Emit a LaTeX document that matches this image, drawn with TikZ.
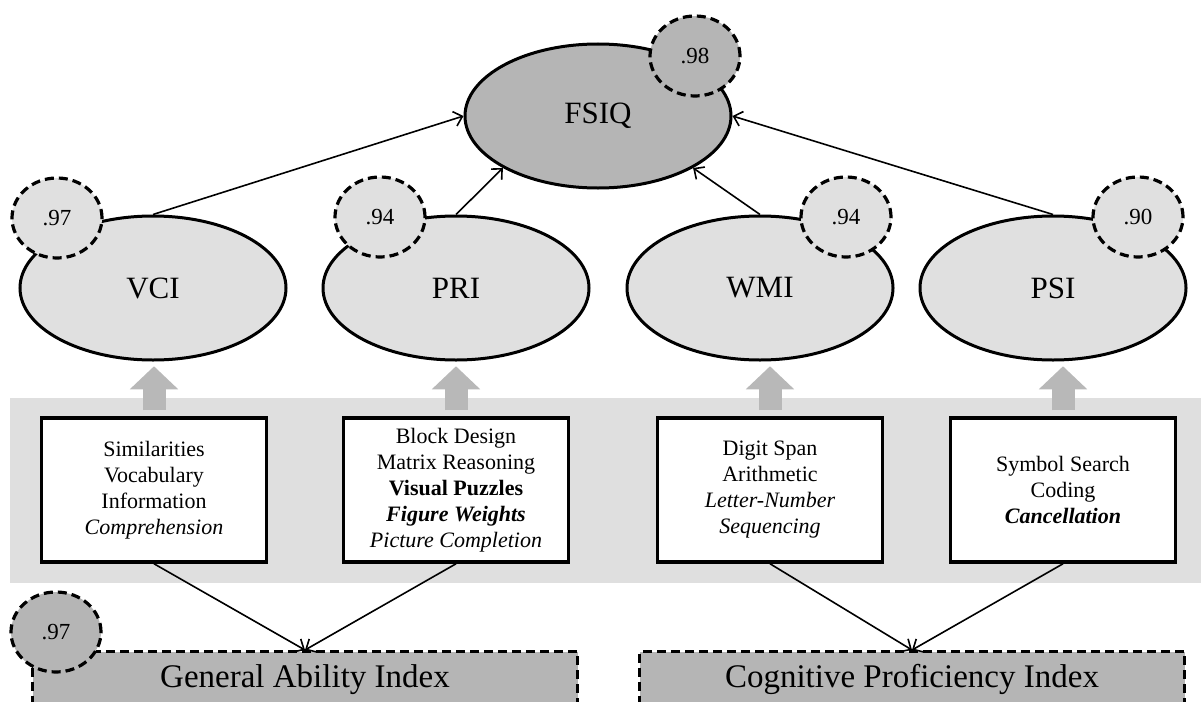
\documentclass[tikz,border=0pt]{standalone}
\usepackage{fontspec}
\setmainfont{Liberation Serif}
\usetikzlibrary{
  shapes.geometric, % Shape "ellipse"
  arrows.meta,
  positioning,
}
\definecolor{lightfill}{gray}{0.88}
\definecolor{darkfill}{gray}{0.71}
\definecolor{bandfill}{gray}{0.875}
\definecolor{arrowfill}{gray}{0.72}
\tikzset{
  >={Straight Barb[length=8pt,width=15pt]},
  my factor/.style={
    ellipse,
    draw,
    line width=3pt,
    fill=lightfill,
    minimum width=266pt,
    minimum height=144pt,
    inner sep=0pt,
    font=\fontsize{31}{36}\selectfont
  },
  my general/.style={
    my factor,
    fill=darkfill
  },
  my error/.style={
    ellipse,
    draw,
    line width=3.2pt,
    dash pattern=on 9pt off 5pt,
    fill=lightfill,
    minimum width=90pt,
    minimum height=80pt,
    inner sep=0pt,
    font=\fontsize{23}{26}\selectfont
  },
  my subtests/.style={
    rectangle,
    draw,
    line width=3.5pt,
    fill=white,
    minimum width=225pt,
    minimum height=144pt,
    align=center,
    font=\fontsize{22}{26}\selectfont
  },
  my index/.style={
    rectangle,
    draw,
    line width=3.2pt,
    dash pattern=on 9pt off 5pt,
    fill=darkfill,
    minimum width=545pt,
    minimum height=56pt,
    anchor=north,
    font=\fontsize{33}{38}\selectfont
  },
  my path/.style={
    ->,
    line width=1.6pt
  },
  fat arrow/.style={
    draw=arrowfill,
    line width=23pt,
    line cap=butt,
    -{Triangle[length=23pt,width=47pt]}
  }
}

\begin{document}
\begin{tikzpicture}[x=1pt,y=-1pt]
\useasboundingbox (0,0) rectangle (1201,701);
\clip (0,0) rectangle (1201,701);
\fill[bandfill] (10,398) rectangle (1201,583);

% factors
\node[my general] (fsiq) at (598,116) {FSIQ};
\node[my factor] (vci) at (153,288) {VCI};
\node[my factor] (pri) at (456,288) {PRI};
\node[my factor] (wmi) at (760,288) {WMI};
\node[my factor] (psi) at (1053,288) {PSI};

% reliabilities
\node[my error,fill=darkfill] (efsiq) at (695,56) {.98};
\node[my error] (evci) at (57,218) {.97};
\node[my error] (epri) at (380,217) {.94};
\node[my error] (ewmi) at (846,217) {.94};
\node[my error] (epsi) at (1138,217) {.90};

\draw[my path] (vci.north) -- (fsiq.west);
\draw[my path] (pri.north) -- (fsiq.south west);
\draw[my path] (wmi.north) -- (fsiq.south east);
\draw[my path] (psi.north) -- (fsiq.east);

% subtests
\node[my subtests] (vcibox) at (154,490)
  {Similarities\\Vocabulary\\Information\\\textit{Comprehension}};
\node[my subtests] (pribox) at (456,490)
  {Block Design\\Matrix Reasoning\\\textbf{Visual Puzzles}\\
   \textbf{\textit{Figure Weights}}\\\textit{Picture Completion}};
\node[my subtests] (wmibox) at (770,490)
  {Digit Span\\Arithmetic\\\textit{Letter-Number}\\\textit{Sequencing}};
\node[my subtests] (psibox) at (1063,490)
  {Symbol Search\\Coding\\\textbf{\textit{Cancellation}}};

\foreach \b in {vcibox,pribox,wmibox,psibox}
  \draw[fat arrow] ([yshift=6pt]\b.north) -- ([yshift=50pt]\b.north);

% indices
\node[my index] (gai) at (305,650) {General Ability Index};
\node[my index] (cpi) at (912,650) {Cognitive Proficiency Index};
\node[my error,fill=darkfill] (egai) at (56,632) {.97};

\draw[my path] (vcibox.south) -- (gai.north);
\draw[my path] (pribox.south) -- (gai.north);
\draw[my path] (wmibox.south) -- (cpi.north);
\draw[my path] (psibox.south) -- (cpi.north);
\end{tikzpicture}
\end{document}
